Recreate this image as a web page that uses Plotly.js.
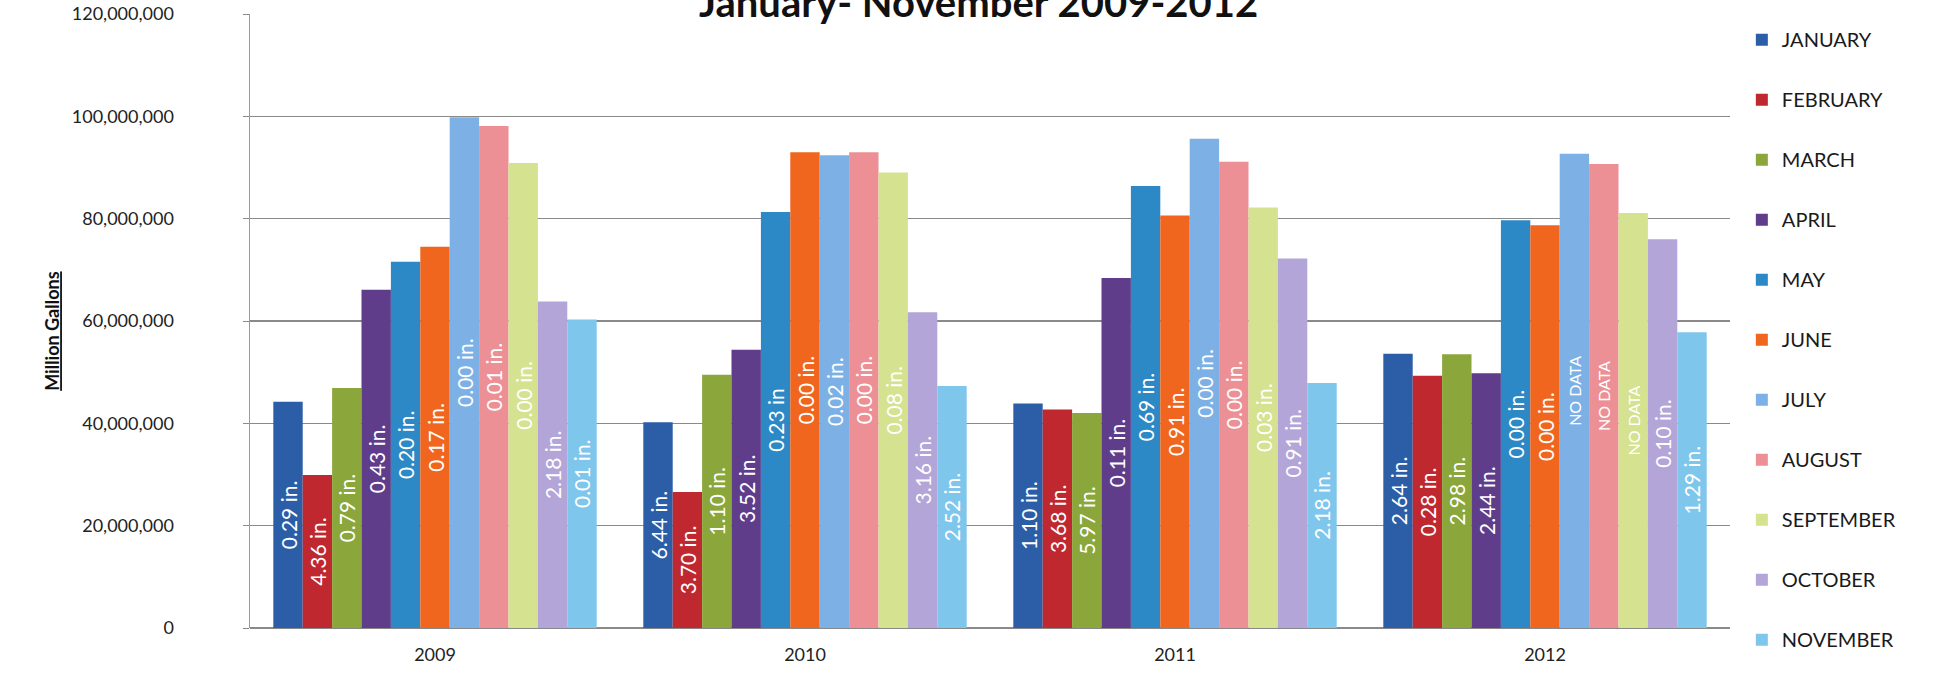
<!DOCTYPE html>
<html>
<head>
<meta charset="utf-8">
<script src="https://cdn.plot.ly/plotly-3.0.1.min.js"></script>
<style>
  html, body { margin: 0; padding: 0; background: #ffffff; }
  #chart { width: 1936px; height: 677px; }
</style>
</head>
<body>
<div id="chart"></div>
<script>
const years = ["2009", "2010", "2011", "2012"];
const months = ["JANUARY", "FEBRUARY", "MARCH", "APRIL", "MAY", "JUNE", "JULY", "AUGUST", "SEPTEMBER", "OCTOBER", "NOVEMBER"];

// Gallons per month, one array per month, values for 2009..2012
const january   = [44200000, 40200000, 43900000, 53600000];
const february  = [29900000, 26600000, 42700000, 49300000];
const march     = [46900000, 49500000, 42000000, 53500000];
const april     = [66100000, 54400000, 68400000, 49800000];
const may       = [71600000, 81300000, 86400000, 79700000];
const june      = [74500000, 93000000, 80600000, 78700000];
const july      = [99800000, 92400000, 95600000, 92700000];
const august    = [98100000, 93000000, 91100000, 90700000];
const september = [90900000, 89000000, 82200000, 81100000];
const october   = [63800000, 61700000, 72200000, 76000000];
const november  = [60300000, 47300000, 47900000, 57800000];

// Rainfall labels per month, 2009..2012
const janRain = ["0.29 in.", "6.44 in.", "1.10 in.", "2.64 in."];
const febRain = ["4.36 in.", "3.70 in.", "3.68 in.", "0.28 in."];
const marRain = ["0.79 in.", "1.10 in.", "5.97 in.", "2.98 in."];
const aprRain = ["0.43 in.", "3.52 in.", "0.11 in.", "2.44 in."];
const mayRain = ["0.20 in.", "0.23 in", "0.69 in.", "0.00 in."];
const junRain = ["0.17 in.", "0.00 in.", "0.91 in.", "0.00 in."];
const julRain = ["0.00 in.", "0.02 in.", "0.00 in.", "NO DATA"];
const augRain = ["0.01 in.", "0.00 in.", "0.00 in.", "NO DATA"];
const sepRain = ["0.00 in.", "0.08 in.", "0.03 in.", "NO DATA"];
const octRain = ["2.18 in.", "3.16 in.", "0.91 in.", "0.10 in."];
const novRain = ["0.01 in.", "2.52 in.", "2.18 in.", "1.29 in."];

const yTicks = [0, 20000000, 40000000, 60000000, 80000000, 100000000, 120000000];
const titleText = "January- November 2009-2012";
const yTitleText = "Million Gallons";

const seriesValues = [january, february, march, april, may, june, july, august, september, october, november];
const seriesLabels = [janRain, febRain, marRain, aprRain, mayRain, junRain, julRain, augRain, sepRain, octRain, novRain];
const colors = ["#2c5ea8", "#c0282f", "#8ba63b", "#5f3d8b", "#2d88c6", "#f0661e",
                "#7db1e6", "#ec9096", "#d5e290", "#b3a5d7", "#7fc6ed"];

const traces = months.map((m, i) => ({
  type: "bar",
  name: m,
  x: years,
  y: seriesValues[i],
  text: seriesLabels[i],
  textposition: "inside",
  insidetextanchor: "middle",
  textangle: -90,
  constraintext: "none",
  cliponaxis: false,
  textfont: {
    family: "Lato, 'Open Sans', sans-serif",
    color: "#ffffff",
    size: seriesLabels[i].map(t => t === "NO DATA" ? 16 : 21)
  },
  marker: { color: colors[i], line: { width: 0 } },
  legendgroup: "g" + i,
  hoverinfo: "x+y+name"
}));

const layout = {
  width: 1936,
  height: 677,
  paper_bgcolor: "#ffffff",
  plot_bgcolor: "#ffffff",
  margin: { l: 250, r: 206, t: 14, b: 49 },
  barmode: "group",
  bargap: 0.126,
  bargroupgap: 0,
  showlegend: true,
  font: { family: "Lato, 'Open Sans', sans-serif", color: "#1a1a1a" },
  xaxis: {
    type: "category",
    showgrid: false,
    showline: false,
    zeroline: false,
    ticks: "",
    tickfont: { size: 18, color: "#222" },
    ticklabelstandoff: 14
  },
  yaxis: {
    range: [0, 120000000],
    tickvals: yTicks,
    tickformat: ",d",
    showgrid: true,
    gridcolor: "#8a8a8a",
    gridwidth: 1.5,
    zeroline: true,
    zerolinecolor: "#8a8a8a",
    zerolinewidth: 2,
    showline: true,
    linecolor: "#9a9a9a",
    linewidth: 1.5,
    ticks: "outside",
    ticklen: 6,
    tickcolor: "#8a8a8a",
    ticklabelstandoff: 65,
    tickfont: { size: 18, color: "#222" }
  },
  legend: {
    x: 1.008,
    xanchor: "left",
    y: 0.99,
    yanchor: "top",
    traceorder: "grouped",
    tracegroupgap: 31,
    itemwidth: 30,
    maxheight: 700,
    font: { size: 20, color: "#1a1a1a" },
    bgcolor: "rgba(0,0,0,0)"
  },
  annotations: [
    {
      text: "<b>" + titleText + "</b>",
      xref: "paper", yref: "paper",
      x: 0.492, y: 1, xanchor: "center", yanchor: "bottom",
      yshift: -14,
      showarrow: false,
      font: { size: 40, color: "#111" }
    },
    {
      text: "<b><u>" + yTitleText + "</u></b>",
      xref: "paper", yref: "paper",
      x: -0.1338, y: 0.484, xanchor: "center", yanchor: "middle",
      textangle: -90,
      showarrow: false,
      font: { size: 18, color: "#111" }
    }
  ]
};

Plotly.newPlot("chart", traces, layout, { displayModeBar: false, staticPlot: true });
</script>
</body>
</html>
